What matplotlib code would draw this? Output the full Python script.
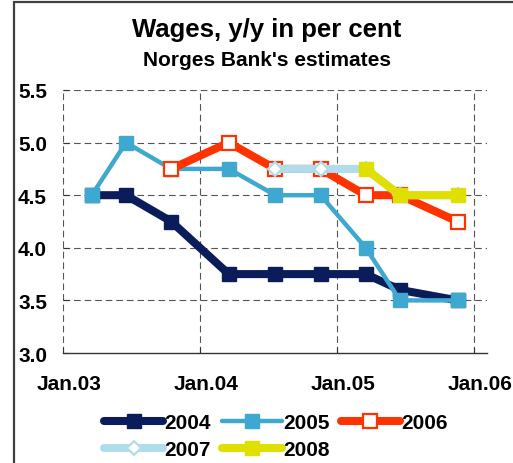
import matplotlib
matplotlib.use("Agg")
import matplotlib.pyplot as plt
from matplotlib.patches import Rectangle
from matplotlib.transforms import ScaledTranslation

plt.rcParams['font.family'] = ['Liberation Sans', 'DejaVu Sans']
plt.rcParams['font.weight'] = 'bold'

# publication dates as decimal years
dates = [2003.21, 2003.46, 2003.79, 2004.21, 2004.55, 2004.88, 2005.21, 2005.46, 2005.88]

wages_2004 = [4.5, 4.5, 4.25, 3.75, 3.75, 3.75, 3.75, 3.6, 3.5]
wages_2005 = [4.5, 5.0, 4.75, 4.75, 4.5, 4.5, 4.0, 3.5, 3.5]
wages_2006 = [4.75, 5.0, 4.75, 4.75, 4.5, 4.5, 4.25]
wages_2007 = [4.75, 4.75, 4.75, 4.5, 4.5]
wages_2008 = [4.75, 4.5, 4.5]

xticks = [2003, 2004, 2005, 2006]
xtick_labels = ['Jan.03', 'Jan.04', 'Jan.05', 'Jan.06']
yticks = [3.0, 3.5, 4.0, 4.5, 5.0, 5.5]

fig = plt.figure(figsize=(5.13, 4.64), dpi=100)
ax = fig.add_axes([63 / 513, 1 - 354 / 464, (487 - 63) / 513, (354 - 91) / 464])

line_kw = dict(solid_capstyle='round', solid_joinstyle='round')
l04, = ax.plot(dates, wages_2004, color='#0b1c5a', lw=5.8, marker='s', ms=10,
               mfc='#0b1c5a', mec='#0b1c5a', label='2004', **line_kw)
l05, = ax.plot(dates, wages_2005, color='#3fa8d0', lw=3.2, marker='s', ms=10.5,
               mfc='#3fa8d0', mec='#3fa8d0', label='2005', **line_kw)
l06, = ax.plot(dates[2:], wages_2006, color='#ff3300', lw=5.8, marker='s', ms=9.5,
               mfc='white', mec='#ff3300', mew=1.6, label='2006', **line_kw)
l07, = ax.plot(dates[4:], wages_2007, color='#b0dceb', lw=5.8, marker='D', ms=7.5,
               mfc='white', mec='#b0dceb', mew=1.6, label='2007', **line_kw)
l08, = ax.plot(dates[6:], wages_2008, color='#dfe000', lw=5.8, marker='s', ms=10.5,
               mfc='#dfe000', mec='#dfe000', label='2008', **line_kw)

ax.set_xlim(2003, 2006.095)
ax.set_ylim(3.0, 5.5)
ax.set_xticks(xticks)
ax.set_xticklabels(xtick_labels)
ax.set_yticks(yticks)
ax.set_yticklabels([f'{v:.1f}' for v in yticks])

grid_kw = dict(color='#555555', lw=0.8, ls=(0, (6, 3.5)), zorder=0)
for v in yticks[1:]:
    ax.axhline(v, **grid_kw)
for v in xticks:
    ax.axvline(v, **grid_kw)

for side in ['top', 'right', 'left']:
    ax.spines[side].set_visible(False)
ax.spines['bottom'].set_color('#333333')
ax.spines['bottom'].set_linewidth(1.0)

ax.tick_params(axis='both', direction='in', length=4, width=0.8, color='#333333',
               labelsize=15)
ax.tick_params(axis='y', pad=11.5)
ax.tick_params(axis='x', pad=15)
for lab in ax.get_xticklabels():
    lab.set_transform(lab.get_transform() + ScaledTranslation(6 / 100, 0, fig.dpi_scale_trans))

fig.text(0.52, 1 - 30 / 464, 'Wages, y/y in per cent', ha='center', va='center',
         fontsize=18.5, fontweight='bold')
fig.text(0.52, 1 - 60 / 464, "Norges Bank's estimates", ha='center', va='center',
         fontsize=15, fontweight='bold')

# legend fills column-wise, so order handles to read row-wise
handles = [l04, l07, l05, l08, l06]
fig.legend(handles, [h.get_label() for h in handles], loc='upper left',
           bbox_to_anchor=(104 / 513, 1 - 414 / 464), ncol=3,
           frameon=False, fontsize=15, handlelength=2.85, handletextpad=0.05,
           columnspacing=0.55, labelspacing=0.38, borderpad=0, borderaxespad=0)

fig.add_artist(Rectangle((14 / 513, -0.2), 1.2, 1.2 - 3 / 464, transform=fig.transFigure,
                         fill=False, lw=1.6, edgecolor='#404040', clip_on=False))

fig.savefig('out.png', dpi=100)
